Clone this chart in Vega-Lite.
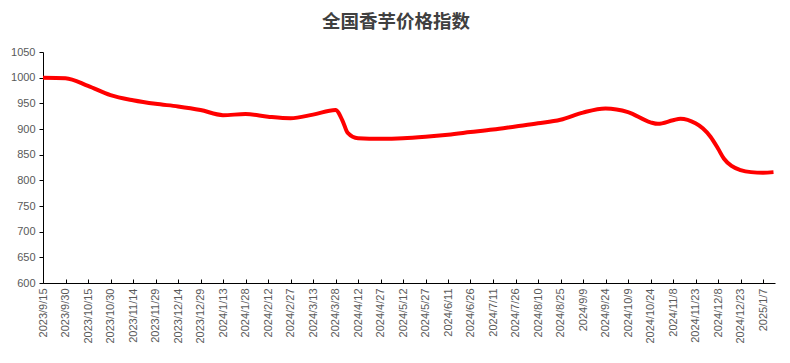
{
  "$schema": "https://vega.github.io/schema/vega-lite/v6.json",
  "autosize": {"type": "none"},
  "width": 732,
  "height": 231,
  "padding": {"left": 43, "top": 52, "right": 15, "bottom": 80},
  "background": "white",
  "title": {
    "text": "全国香芋价格指数",
    "font": "Noto Sans CJK SC",
    "fontSize": 18.5,
    "fontWeight": "bold",
    "color": "#404040",
    "anchor": "middle",
    "dx": -13,
    "offset": 15
  },
  "config": {
    "view": {"stroke": null},
    "axis": {
      "labelFont": "Liberation Sans",
      "labelFontSize": 11,
      "labelColor": "#595959",
      "domainColor": "#000000",
      "tickColor": "#000000",
      "grid": false,
      "title": null
    }
  },
  "data": {
    "values": [
      {"date": "2023-09-15", "value": 1000},
      {"date": "2023-09-30", "value": 999},
      {"date": "2023-10-15", "value": 984},
      {"date": "2023-10-30", "value": 966},
      {"date": "2023-11-14", "value": 956},
      {"date": "2023-11-29", "value": 949},
      {"date": "2023-12-14", "value": 944},
      {"date": "2023-12-29", "value": 937},
      {"date": "2024-01-13", "value": 927},
      {"date": "2024-01-28", "value": 929},
      {"date": "2024-02-12", "value": 924},
      {"date": "2024-02-27", "value": 921},
      {"date": "2024-03-13", "value": 928},
      {"date": "2024-03-28", "value": 937},
      {"date": "2024-04-02", "value": 914},
      {"date": "2024-04-05", "value": 893},
      {"date": "2024-04-12", "value": 882},
      {"date": "2024-04-27", "value": 881},
      {"date": "2024-05-12", "value": 882},
      {"date": "2024-05-27", "value": 885},
      {"date": "2024-06-11", "value": 889},
      {"date": "2024-06-26", "value": 894},
      {"date": "2024-07-11", "value": 899},
      {"date": "2024-07-26", "value": 905},
      {"date": "2024-08-10", "value": 911},
      {"date": "2024-08-25", "value": 918},
      {"date": "2024-09-09", "value": 932},
      {"date": "2024-09-24", "value": 940},
      {"date": "2024-10-09", "value": 933},
      {"date": "2024-10-24", "value": 913},
      {"date": "2024-10-29", "value": 910},
      {"date": "2024-11-08", "value": 917},
      {"date": "2024-11-13", "value": 920},
      {"date": "2024-11-23", "value": 911},
      {"date": "2024-11-28", "value": 901},
      {"date": "2024-12-03", "value": 885},
      {"date": "2024-12-08", "value": 862},
      {"date": "2024-12-12", "value": 842},
      {"date": "2024-12-17", "value": 828},
      {"date": "2024-12-23", "value": 820},
      {"date": "2024-12-30", "value": 816},
      {"date": "2025-01-07", "value": 815},
      {"date": "2025-01-14", "value": 816}
    ]
  },
  "mark": {"type": "line", "color": "#FF0000", "strokeWidth": 4, "interpolate": "monotone"},
  "encoding": {
    "x": {
      "field": "date",
      "type": "temporal",
      "scale": {
        "type": "utc",
        "domain": [
          {"year": 2023, "month": 9, "date": 15, "utc": true},
          {"year": 2025, "month": 1, "date": 15, "utc": true}
        ]
      },
      "axis": {
        "values": [
          {"year": 2023, "month": 9, "date": 15, "utc": true},
          {"year": 2023, "month": 9, "date": 30, "utc": true},
          {"year": 2023, "month": 10, "date": 15, "utc": true},
          {"year": 2023, "month": 10, "date": 30, "utc": true},
          {"year": 2023, "month": 11, "date": 14, "utc": true},
          {"year": 2023, "month": 11, "date": 29, "utc": true},
          {"year": 2023, "month": 12, "date": 14, "utc": true},
          {"year": 2023, "month": 12, "date": 29, "utc": true},
          {"year": 2024, "month": 1, "date": 13, "utc": true},
          {"year": 2024, "month": 1, "date": 28, "utc": true},
          {"year": 2024, "month": 2, "date": 12, "utc": true},
          {"year": 2024, "month": 2, "date": 27, "utc": true},
          {"year": 2024, "month": 3, "date": 13, "utc": true},
          {"year": 2024, "month": 3, "date": 28, "utc": true},
          {"year": 2024, "month": 4, "date": 12, "utc": true},
          {"year": 2024, "month": 4, "date": 27, "utc": true},
          {"year": 2024, "month": 5, "date": 12, "utc": true},
          {"year": 2024, "month": 5, "date": 27, "utc": true},
          {"year": 2024, "month": 6, "date": 11, "utc": true},
          {"year": 2024, "month": 6, "date": 26, "utc": true},
          {"year": 2024, "month": 7, "date": 11, "utc": true},
          {"year": 2024, "month": 7, "date": 26, "utc": true},
          {"year": 2024, "month": 8, "date": 10, "utc": true},
          {"year": 2024, "month": 8, "date": 25, "utc": true},
          {"year": 2024, "month": 9, "date": 9, "utc": true},
          {"year": 2024, "month": 9, "date": 24, "utc": true},
          {"year": 2024, "month": 10, "date": 9, "utc": true},
          {"year": 2024, "month": 10, "date": 24, "utc": true},
          {"year": 2024, "month": 11, "date": 8, "utc": true},
          {"year": 2024, "month": 11, "date": 23, "utc": true},
          {"year": 2024, "month": 12, "date": 8, "utc": true},
          {"year": 2024, "month": 12, "date": 23, "utc": true},
          {"year": 2025, "month": 1, "date": 7, "utc": true}
        ],
        "format": "%Y/%-m/%-d",
        "labelAngle": -90,
        "labelAlign": "right",
        "labelBaseline": "middle",
        "labelOverlap": false,
        "labelBound": false,
        "labelFlush": false,
        "tickSize": -4,
        "labelPadding": 9
      }
    },
    "y": {
      "field": "value",
      "type": "quantitative",
      "scale": {"domain": [600, 1050], "nice": false, "zero": false},
      "axis": {
        "values": [600, 650, 700, 750, 800, 850, 900, 950, 1000, 1050],
        "format": "d",
        "tickSize": 4,
        "labelPadding": 4
      }
    }
  }
}
